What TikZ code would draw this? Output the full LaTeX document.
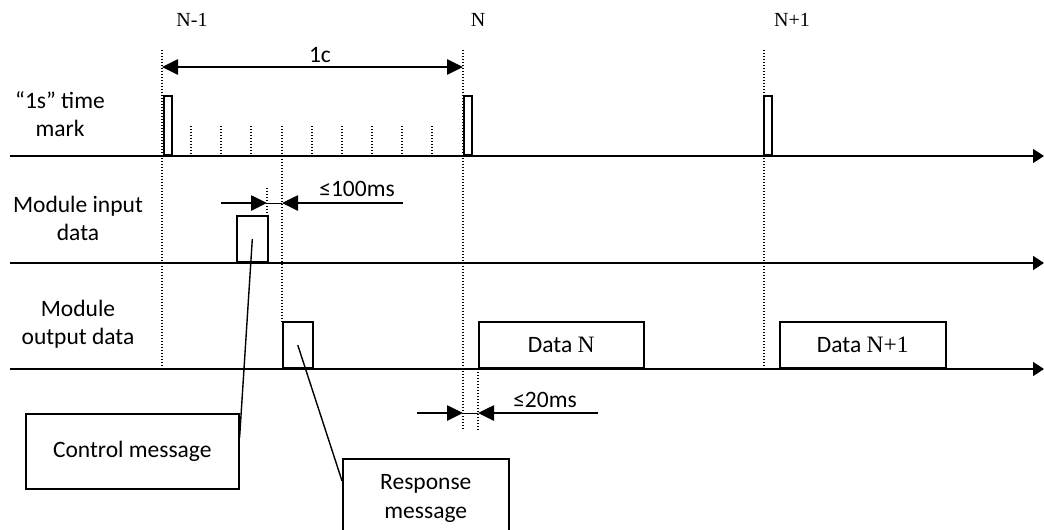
\documentclass[tikz,border=0pt]{standalone}
\usepackage{fontspec}
\setmainfont{Carlito}
\newfontfamily\tms{Liberation Serif}
\usetikzlibrary{arrows.meta,calc}
\begin{document}
\begin{tikzpicture}[x=1pt,y=-1pt,
 axis/.style={line width=1.6pt,-{Triangle[length=11pt,width=14pt]}},
 dimarrow/.style={line width=2.6pt,-{Triangle[length=16pt,width=15pt]}},
 dimlink/.style={line width=0.8pt},
 guide/.style={line width=1.4pt,dash pattern=on 1.4pt off 1.6pt},
 pulse/.style={draw,line width=1.6pt,inner sep=0pt},
 lbl/.style={font=\fontsize{23.5}{28}\selectfont,align=center},
 num/.style={font=\tms\fontsize{20}{24}\selectfont},
 msg/.style={draw,line width=1.6pt,font=\fontsize{23.5}{29}\selectfont,align=center,inner sep=0pt},
 conn/.style={line width=1.4pt},
]
\useasboundingbox (0,0) rectangle (1044,530);
\clip (0,0) rectangle (1044,530);

% axes
\coordinate (a1s) at (10,156); \coordinate (a1e) at (1044,156);
\coordinate (a2s) at (10,263); \coordinate (a2e) at (1044,263);
\coordinate (a3s) at (10,369); \coordinate (a3e) at (1044,369);

% guide coordinates
\coordinate (gA1) at (162,50); \coordinate (gA2) at (162,369);
\coordinate (gB1) at (463,50); \coordinate (gB2) at (463,430);
\coordinate (gC1) at (764,50); \coordinate (gC2) at (764,369);
\coordinate (gD1) at (267,188); \coordinate (gD2) at (267,217);
\coordinate (gE1) at (282,126); \coordinate (gE2) at (282,323);
\coordinate (gF1) at (478,369); \coordinate (gF2) at (478,430);

\draw[guide] (gA1) -- (gA2);
\draw[guide] (gB1) -- (gB2);
\draw[guide] (gC1) -- (gC2);
\draw[guide] (gD1) -- (gD2);
\draw[guide] (gE1) -- (gE2);
\draw[guide] (gF1) -- (gF2);
\foreach \t in {191,221,251,312,342,372,402,432}{
  \coordinate (tk\t a) at (\t,126); \coordinate (tk\t b) at (\t,156);
  \draw[guide] (tk\t a) -- (tk\t b);
}

% pulses
\node[pulse,anchor=south west,minimum width=8pt,minimum height=59pt] (p1) at (163,156) {};
\node[pulse,anchor=south west,minimum width=8pt,minimum height=59pt] (p2) at (463,156) {};
\node[pulse,anchor=south west,minimum width=8pt,minimum height=59pt] (p3) at (763,156) {};
\node[pulse,anchor=south west,minimum width=31pt,minimum height=46pt] (inbox) at (236,263) {};
\node[pulse,anchor=south west,minimum width=30pt,minimum height=46pt] (outbox) at (282,369) {};
\node[pulse,anchor=south west,minimum width=165pt,minimum height=46pt,lbl] (dn) at (478,369) {Data {\tms N}};
\node[pulse,anchor=south west,minimum width=166pt,minimum height=46pt,lbl] (dn1) at (779,369) {Data {\tms N+1}};

\draw[axis] (a1s) -- (a1e);
\draw[axis] (a2s) -- (a2e);
\draw[axis] (a3s) -- (a3e);

% labels
\node[num] (lN1) at (192,20) {N-1};
\node[num] (lN) at (478,20) {N};
\node[num] (lNp) at (792,20) {N+1};
\node[lbl] (ts) at (60,114) {“1s” time\\mark};
\node[lbl] (mi) at (78,218) {Module input\\data};
\node[lbl] (mo) at (78,324) {Module\\output data};

% 1c
\coordinate (cA) at (162,67); \coordinate (cB) at (463,67);
\draw[dimarrow,{Triangle[length=16pt,width=15pt]}-{Triangle[length=16pt,width=15pt]}] (cA) -- (cB);
\node[lbl] (l1c) at (320,55) {1c};

% <=100ms
\coordinate (dA0) at (221,203); \coordinate (dA) at (267,203);
\coordinate (dB0) at (403,203); \coordinate (dB) at (282,203);
\draw[dimarrow] (dA0) -- (dA);
\draw[dimarrow] (dB0) -- (dB);
\draw[dimlink] (dA) -- (dB);
\node[lbl] (l100) at (357,189) {≤100ms};

% <=20ms
\coordinate (eA0) at (417,413); \coordinate (eA) at (463,413);
\coordinate (eB0) at (598,413); \coordinate (eB) at (478,413);
\draw[dimarrow] (eA0) -- (eA);
\draw[dimarrow] (eB0) -- (eB);
\draw[dimlink] (eA) -- (eB);
\node[lbl] (l20) at (545,400) {≤20ms};

% message boxes
\node[msg,anchor=north west,minimum width=213pt,minimum height=75pt] (ctrl) at (25,413) {Control message};
\node[msg,anchor=north west,minimum width=166pt,minimum height=80pt] (resp) at (342,458) {Response\\message};

\draw[conn] (inbox.center) -- ($(ctrl.north east)!0.32!(ctrl.south east)$);
\draw[conn] (outbox.center) -- ($(resp.north west)!0.28!(resp.south west)$);
\end{tikzpicture}
\end{document}
